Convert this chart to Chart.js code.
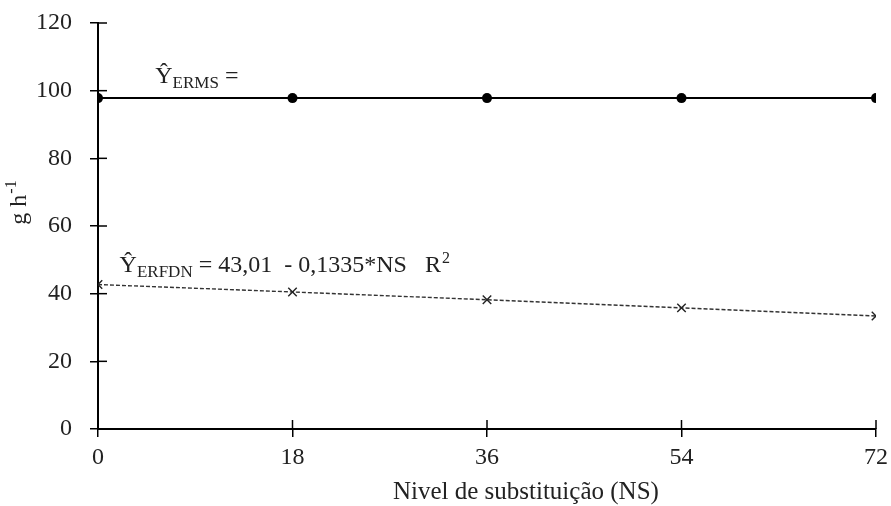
<!DOCTYPE html>
<html>
<head>
<meta charset="utf-8">
<script src="https://cdn.jsdelivr.net/npm/chart.js@4"></script>
<style>
  html, body { margin: 0; padding: 0; background: #fff; }
  #wrap { width: 891px; height: 506px; }
</style>
</head>
<body>
<div id="wrap"><canvas id="chart" width="891" height="506"></canvas></div>
<script>
const levels = [0, 18, 36, 54, 72];
const ermsValues = [97.8, 97.8, 97.8, 97.8, 97.8];
const erfdnValues = [42.7, 40.5, 38.2, 35.8, 33.4];
const yTicks = [0, 20, 40, 60, 80, 100, 120];
const xTitle = "Nivel de substituição (NS)";

const serif = "'Liberation Serif', 'Times New Roman', serif";
const textColor = "#222";

// ticks that cross the axis line (inside part)
const crossTicks = {
  id: "crossTicks",
  afterDraw(chart) {
    const ctx = chart.ctx;
    const xs = chart.scales.x, ys = chart.scales.y;
    ctx.save();
    ctx.strokeStyle = "#000";
    ctx.lineWidth = 1.5;
    ys.ticks.forEach(t => {
      const py = ys.getPixelForValue(t.value);
      ctx.beginPath();
      ctx.moveTo(xs.left, py);
      ctx.lineTo(xs.left + 9, py);
      ctx.stroke();
    });
    xs.ticks.forEach(t => {
      const px = xs.getPixelForValue(t.value);
      ctx.beginPath();
      ctx.moveTo(px, ys.bottom);
      ctx.lineTo(px, ys.bottom - 9);
      ctx.stroke();
    });
    ctx.restore();
  }
};

function eqText(ctx, x, y, sub, rest, sup) {
  ctx.font = "24px " + serif;
  ctx.fillText("\u0176", x, y);
  let cx = x + ctx.measureText("\u0176").width;
  ctx.font = "17px " + serif;
  ctx.fillText(sub, cx, y + 5);
  cx += ctx.measureText(sub).width;
  ctx.font = "24px " + serif;
  ctx.fillText(rest, cx, y);
  cx += ctx.measureText(rest).width;
  if (sup) {
    ctx.font = "16px " + serif;
    ctx.fillText(sup, cx + 1, y - 9);
  }
}

// equations and axis titles
const labels = {
  id: "labels",
  afterDraw(chart) {
    const ctx = chart.ctx;
    const xs = chart.scales.x, ys = chart.scales.y;
    ctx.save();
    ctx.fillStyle = textColor;
    ctx.textBaseline = "alphabetic";
    eqText(ctx, xs.getPixelForValue(5.3), ys.getPixelForValue(102.3), "ERMS", " =", null);
    eqText(ctx, xs.getPixelForValue(2.0), ys.getPixelForValue(46.4), "ERFDN", " = 43,01  - 0,1335*NS   R", "2");

    // x title
    ctx.font = "25px " + serif;
    ctx.textAlign = "center";
    ctx.textBaseline = "middle";
    ctx.fillText(xTitle, xs.getPixelForValue(39.6), 492);

    // y title, rotated
    ctx.translate(20, ys.getPixelForValue(66.8));
    ctx.rotate(-Math.PI / 2);
    ctx.textAlign = "left";
    ctx.textBaseline = "middle";
    ctx.font = "24px " + serif;
    const main = "g h";
    const wMain = ctx.measureText(main).width;
    ctx.font = "16px " + serif;
    const wSup = ctx.measureText("-1").width;
    const start = -(wMain + wSup) / 2;
    ctx.font = "24px " + serif;
    ctx.fillText(main, start, 0);
    ctx.font = "16px " + serif;
    ctx.fillText("-1", start + wMain + 1, -8);
    ctx.restore();
  }
};

new Chart(document.getElementById("chart"), {
  type: "line",
  data: {
    datasets: [
      {
        label: "ERMS",
        data: levels.map((v, i) => ({ x: v, y: ermsValues[i] })),
        borderColor: "#000",
        backgroundColor: "#000",
        borderWidth: 2,
        pointStyle: "circle",
        pointRadius: 5,
        pointBorderWidth: 0
      },
      {
        label: "ERFDN",
        data: levels.map((v, i) => ({ x: v, y: erfdnValues[i] })),
        borderColor: "#333",
        backgroundColor: "#333",
        borderWidth: 1.4,
        borderDash: [4, 2],
        pointStyle: "crossRot",
        pointRadius: 6,
        pointBorderWidth: 1.4,
        pointBorderColor: "#222"
      }
    ]
  },
  options: {
    responsive: false,
    animation: false,
    layout: { padding: { top: 23, right: 15, left: 0, bottom: 0 } },
    plugins: { legend: { display: false }, tooltip: { enabled: false } },
    scales: {
      x: {
        type: "linear",
        min: 0, max: 72,
        afterBuildTicks: s => { s.ticks = levels.map(v => ({ value: v })); },
        grid: { drawOnChartArea: false, tickLength: 8, color: "#000", lineWidth: 1.5 },
        border: { color: "#000", width: 2 },
        ticks: { color: textColor, font: { family: serif, size: 24 }, padding: 6, maxRotation: 0 },
        afterFit: s => { s.height = 506 - 429; s.paddingLeft = 0; s.paddingRight = 0; }
      },
      y: {
        type: "linear",
        min: 0, max: 120,
        afterBuildTicks: s => { s.ticks = yTicks.map(v => ({ value: v })); },
        grid: { drawOnChartArea: false, tickLength: 8, color: "#000", lineWidth: 1.5 },
        border: { color: "#000", width: 2 },
        ticks: { color: textColor, font: { family: serif, size: 24 }, padding: 18 },
        afterFit: s => { s.width = 98; s.paddingTop = 0; s.paddingBottom = 0; }
      }
    }
  },
  plugins: [crossTicks, labels]
});
</script>
</body>
</html>
